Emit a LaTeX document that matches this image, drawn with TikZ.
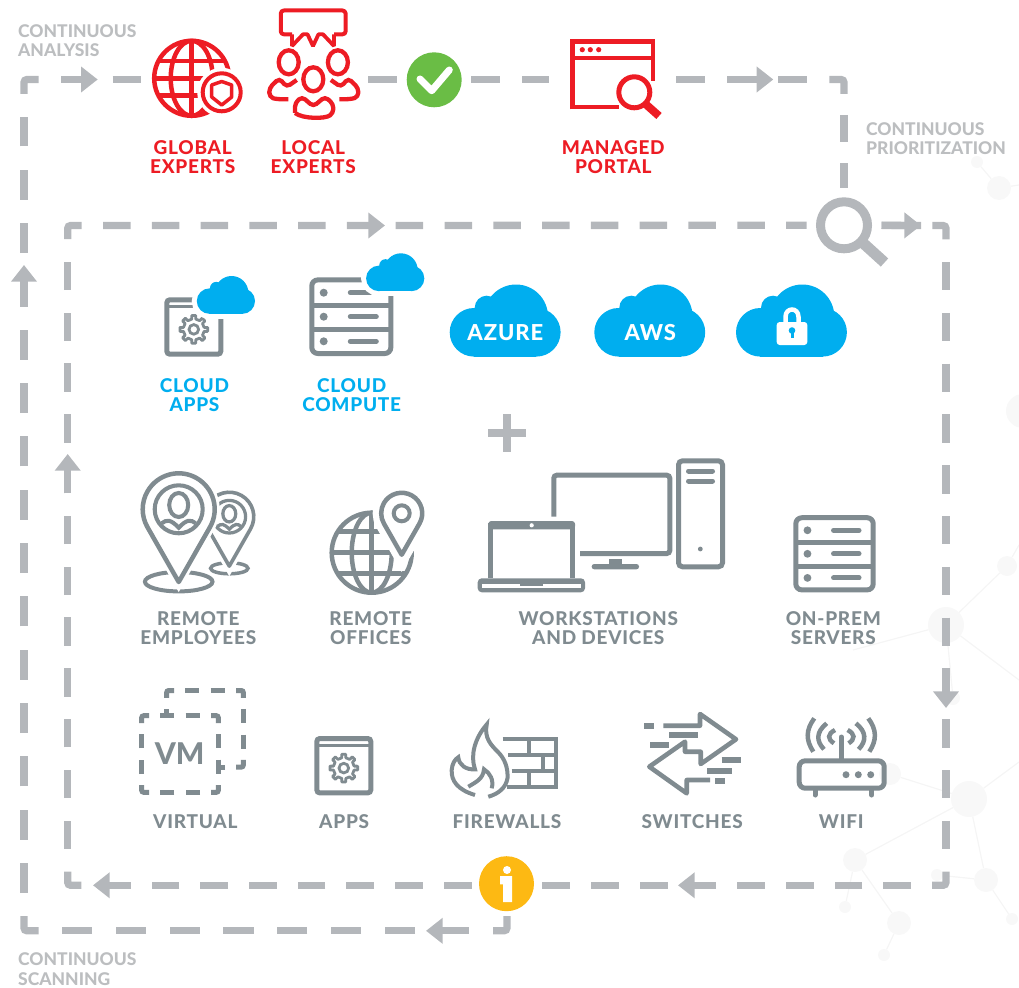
\documentclass[tikz,border=0pt]{standalone}
\usepackage{fontspec}
\setmainfont{Lato}[BoldFont={Lato Heavy}]
\newfontfamily\spaced{Lato}[BoldFont={Lato Heavy},LetterSpace=4]
\usetikzlibrary{arrows.meta}

\definecolor{flowgrey}{HTML}{B4B7BB}
\definecolor{softgrey}{HTML}{BCBEC0}
\definecolor{icongrey}{HTML}{808B90}
\definecolor{alertred}{HTML}{ED1C24}
\definecolor{skyblue}{HTML}{00AEEF}
\definecolor{okgreen}{HTML}{6ABD45}
\definecolor{infoyellow}{HTML}{FDB913}
\definecolor{netfill}{HTML}{F8F8F8}
\definecolor{netline}{HTML}{F5F5F5}

\tikzset{
  cloud/.pic={
    \foreach \cx/\cy/\cr in {-31.7/12/24.3, 30.6/12/24.3, 10.3/-3.8/32, -19/-12.6/12}{
      \path[pic actions] (\cx,\cy) circle[radius=\cr];
    }
    \path[pic actions] (-31.7,-5) rectangle (30.6,36.3);
  },
  cog/.pic={
    \draw[iconline,line width=2.8pt,line join=round] (-11:10.5)
      \foreach \a in {0,45,...,315}{ -- (\a-11:10.5) -- (\a-8:14) -- (\a+8:14) -- (\a+11:10.5) } -- cycle;
    \draw[iconline,line width=2.8pt] (0,0) circle[radius=4.8];
  },
  appbox/.pic={
    \draw[iconline,rounded corners=3pt] (-27,-27.2) rectangle (27,27.2);
    \draw[iconline,line width=3.5pt] (-27,-20.3) -- (27,-20.3);
    \pic at (0,2.4) {cog};
  },
  rack/.pic={
    \draw[iconline,rounded corners=6pt] (-39.5,-36.8) rectangle (39.5,36.8);
    \draw[iconline] (-39.5,-11.7) -- (39.5,-11.7);
    \draw[iconline] (-39.5,12.6) -- (39.5,12.6);
    \foreach \ry in {-24,0,24.6}{
      \fill[icongrey] (-27.6,\ry) circle[radius=4];
      \draw[iconline,line cap=round] (-1,\ry) -- (25,\ry);
    }
  },
  pics/pin/.style={code={
    \draw[white,fill=white,line width=10pt] \pinpath;
    \draw[iconline,line width=#1,line join=round] \pinpath;
    \draw[iconline,line width=.9*#1] (0,0) circle[radius=24];
    \draw[iconline,line width=.9*#1] (0,-4.3) ellipse[x radius=9.5,y radius=12];
    \draw[iconline,line width=.9*#1] (-17,14) .. controls (-12,10) and (-8,10) .. (0,18.4) .. controls (8,10) and (12,10) .. (17,14);
  }},
  vmsquare/.pic={
    \fill[white] (-38.3,-38.3) rectangle (38.3,38.3);
    \foreach \rot in {0,90,180,270}{
      \begin{scope}[rotate=\rot]
        \draw[iconline,rounded corners=2pt] (-38.3,-31) -- (-38.3,-38.3) -- (-31,-38.3);
        \draw[iconline] (-20,-38.3) -- (-5.7,-38.3);
        \draw[iconline] (5.7,-38.3) -- (20,-38.3);
      \end{scope}
    }
  },
}
\def\pinpath{(0,72.7) -- (29.7:36) arc[start angle=29.7,end angle=-209.7,radius=36] -- cycle}

\begin{document}
\begin{tikzpicture}[
    x=1pt, y=-1pt,
    flow/.style={draw=flowgrey,line width=7.3pt},
    flowtip/.style={flow,-{Triangle[length=16.7pt,width=25pt]}},
    spot/.style={inner sep=0pt,minimum height=20pt},
    iconline/.style={draw=icongrey,line width=5pt},
    redline/.style={draw=alertred,line width=4.5pt},
    netnode/.style={circle,fill=netfill,inner sep=0pt},
    netedge/.style={draw=netline,line width=1.2pt},
    every label node/.style={font=\spaced\bfseries\fontsize{19}{18.7}\selectfont,align=center,inner sep=0pt},
    redlabel/.style={every label node,text=alertred},
    bluelabel/.style={every label node,text=skyblue},
    greylabel/.style={every label node,text=icongrey},
    softlabel/.style={font=\bfseries\fontsize{17.5}{19.3}\selectfont,align=left,inner sep=0pt,anchor=west,text=softgrey},
    cloudlabel/.style={font=\spaced\bfseries\fontsize{22}{22}\selectfont,text=white,inner sep=0pt},
  ]
  \useasboundingbox (0,0) rectangle (1019,987);

  % faint network behind everything
  \node[netnode,minimum size=12pt] (n1) at (977,162) {};
  \node[netnode,minimum size=24pt] (n2) at (999,188) {};
  \coordinate (n3) at (1019,185);
  \node[netnode,minimum size=34pt] (n4) at (1023,411) {};
  \node[netnode,minimum size=20pt] (n5) at (1007,566) {};
  \node[netnode,minimum size=36pt] (n6) at (946,625) {};
  \coordinate (n7) at (1019,545);
  \coordinate (n8) at (1019,680);
  \coordinate (n9) at (853,650);
  \node[netnode,minimum size=14pt] (n10) at (953,698) {};
  \node[netnode,minimum size=22pt] (n11) at (890,774) {};
  \node[netnode,minimum size=36pt] (n12) at (969,799) {};
  \node[netnode,minimum size=24pt] (n13) at (855,860) {};
  \node[netnode,minimum size=24pt] (n14) at (986,880) {};
  \node[netnode,minimum size=12pt] (n15) at (937,875) {};
  \node[netnode,minimum size=12pt] (n16) at (845,907) {};
  \node[netnode,minimum size=24pt] (n17) at (899,923) {};
  \node[netnode,minimum size=12pt] (n18) at (884,955) {};
  \node[netnode,minimum size=12pt] (n19) at (1012,919) {};
  \coordinate (n20) at (1019,762);
  \foreach \a/\b in {n1/n2,n2/n3,n5/n6,n5/n7,n6/n8,n6/n9,n6/n10,n11/n12,n12/n13,n12/n14,n12/n20,
                     n13/n16,n13/n17,n17/n18,n15/n14,n14/n19}{
    \draw[netedge] (\a) -- (\b);
  }

  % corners of the two loops
  \coordinate (otl) at (24,79.5);
  \coordinate (otr) at (844,79.5);
  \coordinate (obl) at (24,930.8);
  \coordinate (obr) at (507,930.8);
  \coordinate (itl) at (67.7,225.5);
  \coordinate (itr) at (946,225.5);
  \coordinate (ibl) at (67.7,885.3);
  \coordinate (ibr) at (946,885.3);

  % stops on the outer loop
  \node[spot,minimum width=102pt] (globe) at (192,79.5) {};
  \node[spot,minimum width=110pt] (crowd) at (313,79.5) {};
  \node[circle,fill=okgreen,inner sep=0pt,minimum size=55pt,outer sep=9.5pt] (check) at (434.2,79.8) {};
  \node[spot,minimum width=127pt] (portal) at (612.5,79.5) {};

  % stops shared by the loops
  \node[circle,draw=flowgrey,line width=9pt,inner sep=0pt,minimum size=47pt,outer sep=14pt] (lens) at (844,225.3) {};
  \node[circle,fill=infoyellow,inner sep=0pt,minimum size=55pt,outer sep=7.5pt] (info) at (506.5,883.7) {};

  % outer loop
  \coordinate (oa) at (61.3,79.5);
  \coordinate (ob) at (97.7,79.5);
  \coordinate (oc) at (727,79.5);
  \coordinate (od) at (773.3,79.5);
  \coordinate (oe) at (807.3,79.5);
  \coordinate (of) at (844,115);
  \coordinate (og) at (415,930.8);
  \coordinate (oh) at (62,930.8);
  \coordinate (oi) at (468.6,930.8);
  \coordinate (oj) at (426,930.8);
  \coordinate (ok) at (24,893);
  \coordinate (ol) at (24,117);
  \coordinate (om) at (24,306.7);
  \coordinate (on) at (24,265);

  \draw[flow,dash pattern=on 28.5pt off 22.9pt] (oa) -- (globe);
  \draw[flow] (crowd) -- (crowd -| check.west);
  \draw[flow,dash pattern=on 29pt off 22pt] (check.east |- otl) -- (portal);
  \draw[flow,dash pattern=on 29pt off 22pt] (portal) -- (oe);
  \draw[flow,rounded corners=3pt] (otr) ++(-14.7,0) -- (otr) -- ++(0,14.5);
  \draw[flow,dash pattern=on 27pt off 21.3pt] (of) -- (lens);
  \draw[flow,rounded corners=3pt] (obr) ++(0,-14.8) -- (obr) -- ++(-14,0);
  \draw[flow,dash pattern=on 30.3pt off 23.5pt] (og) -- (oh);
  \draw[flow,rounded corners=3pt] (obl) ++(14.6,0) -- (obl) -- ++(0,-14.8);
  \draw[flow,dash pattern=on 30pt off 23.33pt] (ok) -- (ol);
  \draw[flow,rounded corners=3pt] (otl) ++(0,14.5) -- (otl) -- ++(14.5,0);

  % inner loop
  \coordinate (ia) at (103,225.5);
  \coordinate (ib) at (347,225.5);
  \coordinate (ic) at (385,225.5);
  \coordinate (id) at (921,225.5);
  \coordinate (ie) at (946,262);
  \coordinate (if) at (946,849.3);
  \coordinate (ig) at (946,668.3);
  \coordinate (ih) at (946,708);
  \coordinate (ii) at (911,885.3);
  \coordinate (ij) at (715.7,885.3);
  \coordinate (ik) at (678,885.3);
  \coordinate (il) at (103.4,885.3);
  \coordinate (im) at (130,885.3);
  \coordinate (in) at (93,885.3);
  \coordinate (io) at (67.7,849);
  \coordinate (ip) at (67.7,262);
  \coordinate (iq) at (67.7,493.4);
  \coordinate (ir) at (67.7,454);

  \draw[flow,rounded corners=3pt] (itl) ++(0,13.5) -- (itl) -- ++(14,0);
  \draw[flow,dash pattern=on 27.5pt off 21.29pt] (ia) -- (lens);
  \draw[flow] (lens) -- (id);
  \draw[flow,rounded corners=3pt] (itr) ++(-13.7,0) -- (itr) -- ++(0,13.8);
  \draw[flow,dash pattern=on 28.4pt off 22.4pt] (ie) -- (if);
  \draw[flow,rounded corners=3pt] (ibr) ++(0,-13.6) -- (ibr) -- ++(-14,0);
  \draw[flow,dash pattern=on 27.7pt off 21pt] (ii) -- (info.east |- ibr);
  \draw[flow,dash pattern=on 27.7pt off 21pt] (info.west |- ibl) -- (il);
  \draw[flow,rounded corners=3pt] (ibl) ++(13.7,0) -- (ibl) -- ++(0,-13.6);
  \draw[flow,dash pattern=on 28.4pt off 22.4pt] (io) -- (ip);

  % arrow heads sit on a dash of their run
  \foreach \a/\b in {oa/ob,oc/od,oi/oj,om/on,ib/ic,ig/ih,ij/ik,im/in,iq/ir}{
    \draw[flowtip] (\a) -- (\b);
  }
  \draw[flowtip] (lens.east) -- (id);

  % loop labels
  \node[softlabel] (analysis) at (18,40.5) {CONTINUOUS\\ANALYSIS};
  \node[softlabel] (prioritize) at (866,138.8) {CONTINUOUS\\PRIORITIZATION};
  \node[softlabel] (scanning) at (18,969) {CONTINUOUS\\SCANNING};

  % lens handle, check and info marks
  \draw[draw=flowgrey,line width=11pt] (863,243) -- (884.5,262.5);
  \draw[white,line width=7pt,line cap=round,line join=round] (420,79) -- (431.7,90.7) -- (449.3,70);
  \fill[white] (507,870) circle[radius=4];
  \fill[white] (500,876) -- (512,876) -- (512,902) -- (503,902) -- (503,884.3) -- (500,884.3) -- cycle;

  % global experts
  \draw[redline] (191.7,78.3) circle[radius=37.5];
  \draw[redline] (191.7,78.3) ellipse[x radius=21,y radius=37.5];
  \draw[redline] (191.7,40.8) -- (191.7,115.8);
  \draw[redline] (154.2,78.3) -- (229.2,78.3);
  \draw[redline] (158.5,61) -- (224.9,61);
  \draw[redline] (158.5,95.6) -- (224.9,95.6);
  \fill[white] (221.7,92.3) circle[radius=24.5];
  \draw[redline,line width=4pt] (221.7,92.3) circle[radius=19];
  \draw[redline,line width=3.5pt,line join=round] (211.7,85) -- (221.7,81.5) -- (231.7,85) -- (231.7,97) -- (221.7,105) -- (211.7,97) -- cycle;
  \node[redlabel] (globelabel) at (192.7,157.3) {GLOBAL\\EXPERTS};

  % local experts
  \draw[redline,line width=4pt,line join=round,rounded corners=3pt] (292,34.3) -- (280.8,34.3) -- (280.8,10.5) -- (345.6,10.5) -- (345.6,34.3) -- (334,34.3);
  \draw[redline,line width=3.8pt,line join=bevel] (292,34.3) -- (292,46) -- (303,34.3) -- (307.5,34.3) -- (313,46) -- (318.5,34.3) -- (323,34.3) -- (334,46) -- (334,34.3);
  \draw[redline,line width=4.3pt] (313.3,79.3) ellipse[x radius=10,y radius=12];
  \draw[redline,line width=4.3pt,rounded corners=4pt] (295,113) -- (295,103) -- (302,96.7) -- (313.3,106.5) -- (325,96.7) -- (333.3,104) -- (333.3,113) .. controls (325,119) and (303,119) .. (295,113);
  \foreach \hx in {288.7,337.9}{
    \draw[redline,line width=4.3pt] (\hx,62.3) ellipse[x radius=10,y radius=12];
  }
  \draw[redline,line width=4.3pt,rounded corners=4pt] (296.7,80) -- (286.7,87) -- (279.3,78.3) -- (269.3,88) -- (269.3,96.7) .. controls (275,99) and (282,99.5) .. (288.3,99.3);
  \draw[redline,line width=4.3pt,rounded corners=4pt] (330.9,80) -- (340.9,87) -- (348.3,78.3) -- (358.3,88) -- (358.3,96.7) .. controls (352,99) and (345,99.5) .. (339.3,99.3);
  \node[redlabel] (crowdlabel) at (313.3,157.3) {LOCAL\\EXPERTS};

  % managed portal
  \draw[redline] (572.3,109.3) -- (572.3,41.3) -- (652.8,41.3) -- (652.8,80.7);
  \draw[redline] (570,107) -- (619,107);
  \draw[redline] (572.3,58) -- (652.8,58);
  \foreach \dx in {582.3,590.3,598.7}{
    \fill[alertred] (\dx,49.7) circle[radius=2.6];
  }
  \fill[white] (634.3,92.3) circle[radius=15];
  \draw[redline,line width=5pt] (634.3,92.3) circle[radius=15.5];
  \draw[redline,line width=8pt] (645.5,104) -- (659,116);
  \node[redlabel] (portallabel) at (613.3,157.3) {MANAGED\\PORTAL};

  % cloud apps and cloud compute
  \pic at (193.8,327) {appbox};
  \pic[fill=white,draw=white,line width=10pt,scale=.525] at (226.2,294.8) {cloud};
  \pic[fill=skyblue,scale=.525] at (226.2,294.8) {cloud};
  \node[bluelabel] (appslabel) at (194.5,395.2) {CLOUD\\APPS};
  \pic at (351.3,316.7) {rack};
  \pic[fill=white,draw=white,line width=10pt,scale=.525] at (395.5,272.1) {cloud};
  \pic[fill=skyblue,scale=.525] at (395.5,272.1) {cloud};
  \node[bluelabel] (computelabel) at (351.7,395.2) {CLOUD\\COMPUTE};

  % big clouds
  \pic[fill=skyblue] at (505.7,320.3) {cloud};
  \node[cloudlabel] (azure) at (505.3,333) {AZURE};
  \pic[fill=skyblue] at (650.3,320.3) {cloud};
  \node[cloudlabel] (aws) at (650.3,333) {AWS};
  \pic[fill=skyblue] at (792,320.3) {cloud};
  \fill[white,rounded corners=3pt] (776.7,322) rectangle (807.3,345);
  \draw[white,line width=4.5pt] (785.5,323) -- (785.5,317) .. controls (785.5,307) and (798.5,307) .. (798.5,317) -- (798.5,323);
  \fill[skyblue] (792,330.5) circle[radius=3.3];
  \draw[skyblue,line width=3pt] (792,331) -- (792,338);

  % plus
  \draw[flowgrey,line width=8.3pt] (488.3,433.3) -- (526,433.3);
  \draw[flowgrey,line width=8pt] (507.2,414.3) -- (507.2,452.3);

  % remote employees
  \draw[iconline,line width=3.5pt] (229.3,568.3) ellipse[x radius=18.7,y radius=5.5];
  \pic[scale=.68] at (229.3,516.7) {pin=3.6pt};
  \draw[iconline,line width=4pt] (178.7,581.7) ellipse[x radius=33.8,y radius=9.7];
  \pic at (178.7,509.3) {pin=4.5pt};
  \node[greylabel] (employeeslabel) at (198.3,628) {REMOTE\\EMPLOYEES};

  % remote offices
  \draw[iconline,line width=4.5pt] (371.7,552.7) circle[radius=40];
  \draw[iconline,line width=4.5pt] (371.7,552.7) ellipse[x radius=20,y radius=40];
  \draw[iconline,line width=4.5pt] (371.7,512.7) -- (371.7,592.7);
  \draw[iconline,line width=4.5pt] (331.7,552.7) -- (411.7,552.7);
  \draw[iconline,line width=4.5pt] (337,531.7) -- (406,531.7);
  \draw[iconline,line width=4.5pt] (337,573.7) -- (406,573.7);
  \begin{scope}[shift={(401.7,513.3)},scale=.57]
    \draw[white,fill=white,line width=17pt] \pinpath;
    \draw[iconline,line width=4.5pt,line join=round] \pinpath;
    \draw[iconline,line width=4pt] (0,0) circle[radius=14];
  \end{scope}
  \node[greylabel] (officeslabel) at (370.7,628) {REMOTE\\OFFICES};

  % workstations and devices
  \draw[iconline,rounded corners=4pt] (678.5,460.8) rectangle (722.5,566.8);
  \draw[iconline,line cap=round] (688.5,471) -- (712.5,471);
  \draw[iconline,line cap=round] (688.5,481) -- (712.5,481);
  \fill[icongrey] (700.3,549) circle[radius=2.4];
  \draw[iconline,rounded corners=3pt] (553.8,516.7) -- (553.8,475.2) -- (669.8,475.2) -- (669.8,553.5) -- (580,553.5);
  \fill[icongrey] (609.3,559) rectangle (621.7,565);
  \fill[icongrey,rounded corners=2.5pt] (591.7,564) rectangle (639,569.3);
  \draw[iconline] (490.8,578.3) -- (490.8,525) -- (572.5,525) -- (572.5,578.3);
  \fill[icongrey,rounded corners=3pt] (488.3,521) rectangle (575,529.3);
  \fill[white] (531.7,525.3) circle[radius=2.1];
  \fill[icongrey,rounded corners=4pt] (477.7,578.3) -- (585,578.3) -- (585,592.3) -- (477.7,592.3) -- cycle;
  \fill[white] (482,584) rectangle (581,587.5);
  \fill[icongrey] (520,583.5) rectangle (542.7,586);
  \node[greylabel] (workstationslabel) at (598.3,628) {WORKSTATIONS\\AND DEVICES};

  % on-prem servers
  \pic[scale=.98] at (834.5,553.8) {rack};
  \node[greylabel] (serverslabel) at (833.3,628) {ON-PREM\\SERVERS};

  % virtual
  \pic at (205,728.8) {vmsquare};
  \pic at (180,754) {vmsquare};
  \node[font=\bfseries\fontsize{30}{30}\selectfont,text=icongrey,inner sep=0pt] (vm) at (179.7,754) {VM};
  \node[greylabel] (virtuallabel) at (195.3,822) {VIRTUAL};

  % apps
  \pic at (343.8,765.7) {appbox};
  \node[greylabel] (appsonlylabel) at (344.2,822) {APPS};

  % firewalls
  \draw[iconline,line width=4pt] (475,795) .. controls (458,790) and (451,781) .. (451.7,770) .. controls (452,764) and (455,759) .. (458.3,757.3)
    .. controls (459,765) and (466,770) .. (475,769.3) .. controls (470,755) and (475,738) .. (486.7,724.5)
    .. controls (484,738) and (491,745) .. (498,752) .. controls (505,759) and (508,768) .. (507.5,778) .. controls (506,788) and (498,794) .. (488.3,796.7);
  \draw[iconline,line width=4pt] (468.3,786.7) .. controls (476,782) and (483,779) .. (484,769.3) .. controls (490,773) and (494,780) .. (491.7,788.3);
  \draw[iconline,line width=3.7pt] (502.7,739.3) -- (555.7,739.3) -- (555.7,786.7) -- (506.7,786.7);
  \draw[iconline,line width=3.7pt] (508,755) -- (555.7,755);
  \draw[iconline,line width=3.7pt] (511.7,770.7) -- (555.7,770.7);
  \draw[iconline,line width=3.7pt] (529,739.3) -- (529,755);
  \draw[iconline,line width=3.7pt] (529,770.7) -- (529,786.7);
  \draw[iconline,line width=3.7pt] (543.3,755) -- (543.3,770.7);
  \node[greylabel] (firewallslabel) at (507,822) {FIREWALLS};

  % switches
  \draw[iconline,line width=4.6pt,line join=round] (663.3,725.7) -- (700,725.7) -- (700,714) -- (736,739.3) -- (700.7,764) -- (700.7,751.7) -- (685,751.7)
    -- (685,741.7) -- (649.3,766.7) -- (686.7,793.3) -- (686.7,780) -- (710,780);
  \foreach \lx/\ly/\lz in {644/654/725.7, 669/698/735, 650/669/745, 721.7/741/760, 707.3/732/771, 715/725/781}{
    \draw[iconline,line width=5.6pt] (\lx,\lz) -- (\ly,\lz);
  }
  \node[greylabel] (switcheslabel) at (692.2,822) {SWITCHES};

  % wifi
  \draw[iconline,rounded corners=6pt] (799.2,760.8) rectangle (884.2,788.2);
  \foreach \fx in {815,871.7}{
    \draw[iconline,line cap=round] (\fx,790) -- (\fx,795);
  }
  \foreach \dx in {846,858.3,870.7}{
    \fill[icongrey] (\dx,774.7) circle[radius=3.5];
  }
  \draw[iconline,line cap=round] (841.3,737) -- (841.3,760);
  \foreach \s in {1,-1}{
    \begin{scope}[shift={(841.3,0)},xscale=\s]
      \draw[iconline,line width=4.5pt] (-27,718.3) .. controls (-35.6,730) and (-35.6,740) .. (-28,751.7);
      \draw[iconline,line width=4.5pt] (-14.6,723.3) .. controls (-25.3,732) and (-25.3,741) .. (-17.3,749.3);
      \draw[iconline,line width=4.5pt] (-6.3,730) .. controls (-14,734) and (-14,739) .. (-7.3,743.3);
    \end{scope}
  }
  \node[greylabel] (wifilabel) at (841.3,822) {WIFI};
\end{tikzpicture}
\end{document}
